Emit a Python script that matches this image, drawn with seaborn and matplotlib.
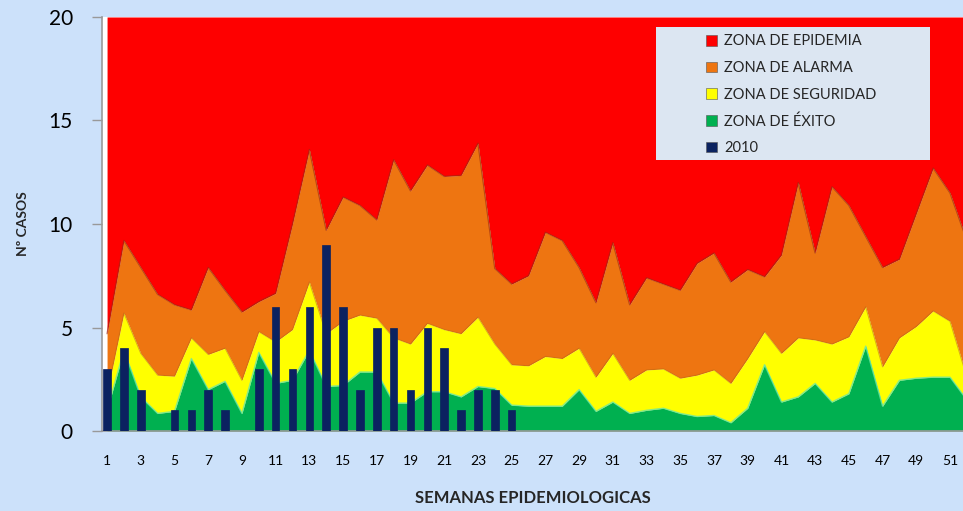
import matplotlib
matplotlib.use("Agg")
import matplotlib.pyplot as plt
import seaborn as sns
from matplotlib.patches import Patch, Rectangle

sns.set_theme(style="white")
plt.rcParams["font.family"] = ["Lato", "DejaVu Sans"]

# Semanas epidemiologicas
weeks = list(range(1, 53))

# Limites superiores (acumulados) de cada zona del canal endemico
exito_top = [1.0, 3.9, 1.65, 0.85, 0.95, 3.5, 2.0, 2.4, 0.85, 3.8, 2.3, 2.45, 3.9,
             2.15, 2.2, 2.85, 2.85, 1.35, 1.35, 1.9, 1.9, 1.65, 2.15, 2.05, 1.25, 1.2,
             1.2, 1.2, 2.0, 0.95, 1.4, 0.85, 1.0, 1.1, 0.85, 0.7, 0.75, 0.4, 1.1,
             3.2, 1.4, 1.65, 2.3, 1.4, 1.8, 4.1, 1.2, 2.45, 2.55, 2.6, 2.6, 1.5]
seguridad_top = [1.8, 5.7, 3.75, 2.7, 2.65, 4.5, 3.7, 4.0, 2.45, 4.8, 4.3, 4.9, 7.2,
                 4.7, 5.3, 5.6, 5.45, 4.5, 4.2, 5.2, 4.9, 4.7, 5.5, 4.2, 3.2, 3.15,
                 3.6, 3.5, 4.0, 2.6, 3.75, 2.45, 2.95, 3.0, 2.55, 2.7, 2.95, 2.3, 3.5,
                 4.8, 3.75, 4.5, 4.4, 4.2, 4.55, 6.0, 3.1, 4.5, 5.05, 5.8, 5.3, 2.6]
alarma_top = [4.7, 9.2, 7.9, 6.6, 6.1, 5.85, 7.9, 6.8, 5.75, 6.25, 6.65, 10.0, 13.6,
              9.7, 11.3, 10.9, 10.2, 13.1, 11.6, 12.85, 12.3, 12.35, 13.9, 7.85, 7.1,
              7.5, 9.6, 9.2, 7.9, 6.2, 9.1, 6.1, 7.4, 7.1, 6.8, 8.1, 8.6, 7.2, 7.8,
              7.45, 8.5, 12.0, 8.6, 11.8, 10.9, 9.4, 7.9, 8.3, 10.5, 12.7, 11.5, 9.2]
epidemia_top = [20] * 52

# Casos 2010
cases_2010 = [3, 4, 2, 0, 1, 1, 2, 1, 0, 3, 6, 3, 6, 9, 6, 2, 5, 5, 2, 5, 4, 1, 2, 2, 1] + [0] * 27

labels = ["ZONA DE EPIDEMIA", "ZONA DE ALARMA", "ZONA DE SEGURIDAD", "ZONA DE ÉXITO", "2010"]
colors = ["#FE0000", "#EE7511", "#FFFF00", "#00B050", "#0B2260"]
bg = "#CCE1FA"

fig = plt.figure(figsize=(9.63, 5.11), dpi=100, facecolor=bg)
ax = fig.add_axes([102 / 963, 1 - 431 / 511, 1 - 102 / 963, 414 / 511])
ax.set_facecolor("white")

zero = [0] * 52
ax.fill_between(weeks, alarma_top, epidemia_top, color=colors[0], lw=0)
ax.fill_between(weeks, seguridad_top, alarma_top, color=colors[1], lw=0)
ax.fill_between(weeks, exito_top, seguridad_top, color=colors[2], lw=0)
ax.fill_between(weeks, zero, exito_top, color=colors[3], lw=0)
ax.plot(weeks, alarma_top, color="#9A2A10", lw=1.0, alpha=0.6)
ax.plot(weeks, seguridad_top, color="#B86A10", lw=0.8, alpha=0.5)
ax.plot(weeks, exito_top, color="#6BE8A0", lw=1.0, alpha=0.8)

sns.barplot(x=weeks, y=cases_2010, native_scale=True, width=0.45,
            color=colors[4], saturation=1, ax=ax, zorder=3,
            edgecolor=colors[4], linewidth=0.5)

ax.set_xlim(0.70, 51.77)
ax.set_ylim(0, 20)
ax.set_yticks([0, 5, 10, 15, 20])
ax.set_xticks(list(range(1, 52, 2)))
ax.tick_params(axis="y", labelsize=15, length=7, width=1, color="#999999",
               pad=14, left=True, labelcolor="black")
ax.tick_params(axis="x", labelsize=10, length=0, pad=17, labelcolor="black")

for side in ["top", "right"]:
    ax.spines[side].set_visible(False)
for side in ["left", "bottom"]:
    ax.spines[side].set_color("#999999")
    ax.spines[side].set_linewidth(1.2)

ax.set_xlabel("SEMANAS EPIDEMIOLOGICAS", fontsize=12, fontweight="bold", labelpad=17)
ax.set_ylabel("Nº CASOS", fontsize=10, fontweight="bold", labelpad=14)

# Cuadro de leyenda
ax.add_patch(Rectangle((0.643, 0.655), 0.319, 0.321, transform=ax.transAxes,
                       facecolor="#DCE6F2", edgecolor="none", zorder=4))
handles = [Patch(facecolor=c, edgecolor="#555555", linewidth=0.4) for c in colors]
leg = ax.legend(handles, labels, loc="upper left", bbox_to_anchor=(0.695, 0.972),
                frameon=False, fontsize=10.5, handlelength=0.75, handleheight=0.75,
                handletextpad=0.5, labelspacing=0.86, borderaxespad=0)
leg.set_zorder(5)

fig.savefig("out.png", dpi=100, facecolor=bg)
